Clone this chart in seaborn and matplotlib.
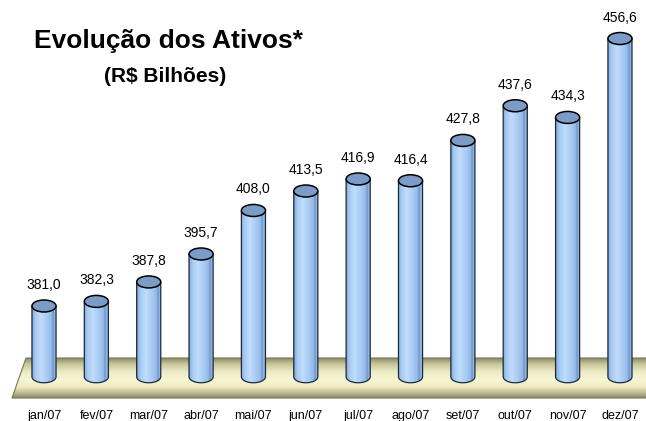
import numpy as np
import matplotlib
matplotlib.use("Agg")
import matplotlib.pyplot as plt
import seaborn as sns
from matplotlib.patches import Ellipse, PathPatch, Polygon
from matplotlib.path import Path
from matplotlib.colors import LinearSegmentedColormap

# dados
meses = ["jan/07", "fev/07", "mar/07", "abr/07", "mai/07", "jun/07",
         "jul/07", "ago/07", "set/07", "out/07", "nov/07", "dez/07"]
ativos = [381.0, 382.3, 387.8, 395.7, 408.0, 413.5,
          416.9, 416.4, 427.8, 437.6, 434.3, 456.6]

base = 361.0      # base dos cilindros
elip_h = 3.39     # altura da elipse em unidades de dados

sns.set_style("white")
plt.rcParams['font.family'] = ['Liberation Sans', 'DejaVu Sans']
plt.rcParams['text.color'] = 'black'
plt.rcParams['xtick.color'] = 'black'

fig = plt.figure(figsize=(6.46, 4.21), dpi=100)

# fundo em pixels para o "piso"
bg = fig.add_axes([0, 0, 1, 1])
bg.set_xlim(0, 646)
bg.set_ylim(421, 0)
bg.axis('off')

cmap_piso = LinearSegmentedColormap.from_list("piso", [
    (0.0, "#8c8a62"), (0.15, "#c8c69a"), (0.35, "#eeecc6"), (0.55, "#f8f6d2"),
    (0.72, "#eeecc4"), (0.85, "#c4c298"), (1.0, "#8e8c66")])
piso = Polygon([(26, 358), (660, 358), (646, 398), (12, 398)], closed=True,
               facecolor="none", edgecolor="#77765a", lw=0.8, zorder=3)
bg.add_patch(piso)
img = bg.imshow(np.linspace(0, 1, 256)[:, None], cmap=cmap_piso, aspect='auto',
                extent=[0, 660, 398, 358], zorder=2)
img.set_clip_path(piso)
bg.set_xlim(0, 646)
bg.set_ylim(421, 0)

# eixo principal
ax = fig.add_axes([0, 21 / 421, 1, 400 / 421])
ax.patch.set_alpha(0)
sns.barplot(x=meses, y=ativos, color="#a6c9f2", width=0.46, ax=ax)

cmap_barra = LinearSegmentedColormap.from_list("barra", [
    (0.0, "#7fa5d6"), (0.12, "#a4c8f2"), (0.35, "#c0ddfc"), (0.6, "#a8cbf4"),
    (0.78, "#94bae9"), (0.85, "#6f94c4"), (0.92, "#9abfec"), (1.0, "#7aa0d2")])

t = np.linspace(np.pi, 2 * np.pi, 40)
for p in list(ax.patches):
    x0 = p.get_x()
    w = p.get_width()
    topo = p.get_height()
    cx = x0 + w / 2
    p.set_visible(False)
    # corpo do cilindro
    verts = [(x0, topo), (x0, base)]
    verts += [(cx + w / 2 * np.cos(a), base + elip_h / 2 * np.sin(a)) for a in t]
    verts += [(x0 + w, topo), (x0, topo)]
    corpo = PathPatch(Path(verts), facecolor="none", edgecolor="#1e2a3a", lw=0.9, zorder=5)
    ax.add_patch(corpo)
    gi = ax.imshow(np.linspace(0, 1, 256)[None, :], cmap=cmap_barra, aspect='auto',
                   extent=[x0, x0 + w, base - elip_h, topo], zorder=4)
    gi.set_clip_path(corpo)
    # tampa
    ax.add_patch(Ellipse((cx, topo), w, elip_h, facecolor="#7a9cc6",
                         edgecolor="black", lw=1.1, zorder=6))
    ax.annotate(f"{topo:.1f}".replace('.', ','), (cx, topo), xytext=(0, 21),
                textcoords='offset pixels', ha='center', va='center', fontsize=10,
                color="black")

ax.set_xlim(-44 / 52.36, (646 - 44) / 52.36)
ax.set_ylim(354.43, 467.49)
ax.set_ylabel("")
ax.set_xlabel("")
ax.set_yticks([])
ax.tick_params(axis='x', length=0, pad=7, labelsize=9, labelcolor='black')
sns.despine(ax=ax, left=True, bottom=True)

fig.text(168 / 646, 1 - 48 / 421, "Evolução dos Ativos*", ha='center', va='baseline',
         fontsize=19, weight='bold', color='black')
fig.text(165 / 646, 1 - 82 / 421, "(R$ Bilhões)", ha='center', va='baseline',
         fontsize=15, weight='bold', color='black')

fig.savefig("out.png", dpi=100)
